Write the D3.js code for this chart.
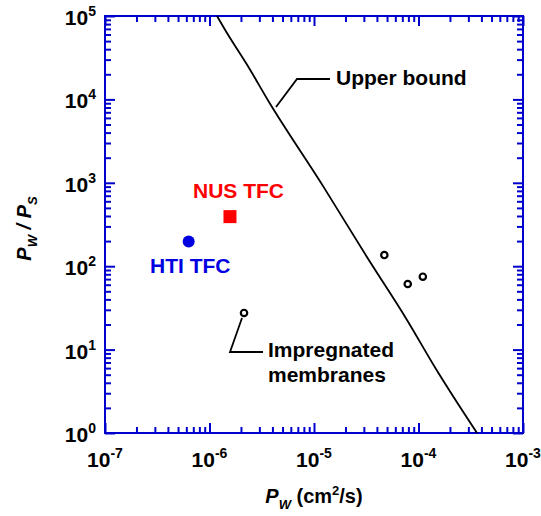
<!DOCTYPE html>
<html>
<head>
<meta charset="utf-8">
<script src="https://cdn.jsdelivr.net/npm/d3@7"></script>
<style>
  body { margin: 0; background: #fff; }
  svg { font-family: "Liberation Sans", Arial, sans-serif; font-weight: bold; }
</style>
</head>
<body>
<svg width="541" height="516"></svg>
<script>
// ---- data ----
const xDecades = [-7, -6, -5, -4, -3];
const yDecades = [0, 1, 2, 3, 4, 5];

// upper bound curve
const boundX = [1.18e-6, 1.47e-6, 2.29e-6, 3.71e-6, 1.23e-5, 3.21e-5, 7.76e-5, 1.49e-4, 3.63e-4];
const boundY = [1e5, 6.25e4, 2.6e4, 9.3e3, 900, 129, 22.7, 5.69, 1];

// impregnated membranes (open circles)
const impX = [2.14e-6, 4.71e-5, 7.89e-5, 1.10e-4];
const impY = [27.5, 136, 61.2, 74.8];

// thin film composites
const htiX = [6.32e-7];
const htiY = [198];
const nusX = [1.57e-6];
const nusY = [393];

// ---- layout ----
const margin = { top: 16, right: 18, bottom: 83, left: 105 };
const width = 541, height = 516;
const innerW = width - margin.left - margin.right;
const innerH = height - margin.top - margin.bottom;
const axisColor = '#0000cc';

const svg = d3.select('svg');
const g = svg.append('g').attr('transform', `translate(${margin.left},${margin.top})`);

const x = d3.scaleLog().domain([1e-7, 1e-3]).range([0, innerW]);
const y = d3.scaleLog().domain([1, 1e5]).range([innerH, 0]);

// minor + major tick values
const minorX = [], minorY = [];
for (let e = -7; e < -3; e++) for (let m = 2; m <= 9; m++) minorX.push(m * Math.pow(10, e));
for (let e = 0; e < 5; e++) for (let m = 2; m <= 9; m++) minorY.push(m * Math.pow(10, e));
const majorX = xDecades.map(d => Math.pow(10, d));
const majorY = yDecades.map(d => Math.pow(10, d));

function styleAxis(sel) {
  sel.select('.domain').remove();
  sel.selectAll('line').attr('stroke', axisColor).attr('stroke-width', 2);
}

// ticks on all four sides, pointing inward
const axes = [
  [d3.axisBottom(x), `translate(0,${innerH})`, minorX, majorX],
  [d3.axisTop(x), 'translate(0,0)', minorX, majorX],
  [d3.axisLeft(y), 'translate(0,0)', minorY, majorY],
  [d3.axisRight(y), `translate(${innerW},0)`, minorY, majorY]
];
axes.forEach(([gen, tr, minor, major]) => {
  g.append('g').attr('transform', tr)
    .call(gen.tickValues(minor).tickSize(-6).tickFormat(''))
    .call(styleAxis);
  g.append('g').attr('transform', tr)
    .call(gen.tickValues(major).tickSize(-10).tickFormat(''))
    .call(styleAxis);
});

// frame
g.append('rect')
  .attr('width', innerW).attr('height', innerH)
  .attr('fill', 'none').attr('stroke', axisColor).attr('stroke-width', 2);

// tick labels with superscripts
xDecades.forEach(e => {
  const t = g.append('text')
    .attr('x', x(Math.pow(10, e))).attr('y', innerH + 34)
    .attr('text-anchor', 'middle').attr('font-size', 21);
  t.append('tspan').text('10');
  t.append('tspan').attr('font-size', 14).attr('dy', -9).text(e);
});
yDecades.forEach(e => {
  const t = g.append('text')
    .attr('x', -9).attr('y', y(Math.pow(10, e)) + 9)
    .attr('text-anchor', 'end').attr('font-size', 21);
  t.append('tspan').text('10');
  t.append('tspan').attr('font-size', 14).attr('dy', -9).text(e);
});

// axis titles
const xt = svg.append('text')
  .attr('x', margin.left + innerW / 2).attr('y', 503)
  .attr('text-anchor', 'middle').attr('font-size', 20);
xt.append('tspan').attr('font-style', 'italic').text('P');
xt.append('tspan').attr('font-style', 'italic').attr('font-size', 13).attr('dy', 6).text('W');
xt.append('tspan').attr('dy', -6).text(' (cm');
xt.append('tspan').attr('font-size', 13).attr('dy', -8).text('2');
xt.append('tspan').attr('dy', 8).text('/s)');

const yt = svg.append('text')
  .attr('transform', `translate(31,${margin.top + innerH / 2 + 4}) rotate(-90)`)
  .attr('text-anchor', 'middle').attr('font-size', 20).attr('font-style', 'italic');
yt.append('tspan').text('P');
yt.append('tspan').attr('font-size', 13).attr('dy', 6).text('W');
yt.append('tspan').attr('dy', -6).text(' / P');
yt.append('tspan').attr('font-size', 13).attr('dy', 6).text('S');

// upper bound line
const line = d3.line().x(d => x(d[0])).y(d => y(d[1])).curve(d3.curveMonotoneX);
g.append('path')
  .datum(d3.zip(boundX, boundY))
  .attr('d', line)
  .attr('fill', 'none').attr('stroke', '#000').attr('stroke-width', 1.8);

// open circles
g.selectAll('.imp')
  .data(d3.zip(impX, impY))
  .join('circle')
  .attr('class', 'imp')
  .attr('cx', d => x(d[0])).attr('cy', d => y(d[1]))
  .attr('r', 3.2)
  .attr('fill', '#fff').attr('stroke', '#000').attr('stroke-width', 2.2);

// HTI TFC
g.selectAll('.hti')
  .data(d3.zip(htiX, htiY))
  .join('circle')
  .attr('class', 'hti')
  .attr('cx', d => x(d[0])).attr('cy', d => y(d[1]))
  .attr('r', 6).attr('fill', '#0000e0');

// NUS TFC
g.selectAll('.nus')
  .data(d3.zip(nusX, nusY))
  .join('rect')
  .attr('class', 'nus')
  .attr('x', d => x(d[0]) - 6.5).attr('y', d => y(d[1]) - 6.5)
  .attr('width', 13).attr('height', 13).attr('fill', '#ff0000');

// annotations
svg.append('text').attr('x', 193).attr('y', 198)
  .attr('font-size', 21).attr('fill', '#ff0000').text('NUS TFC');
svg.append('text').attr('x', 150).attr('y', 273)
  .attr('font-size', 21).attr('fill', '#0000e0').text('HTI TFC');

svg.append('polyline')
  .attr('points', '276,107 297,79 330,79')
  .attr('fill', 'none').attr('stroke', '#000').attr('stroke-width', 1.8);
svg.append('text').attr('x', 336).attr('y', 85)
  .attr('font-size', 21).attr('fill', '#000').text('Upper bound');

svg.append('polyline')
  .attr('points', '242,318 230,352 263,352')
  .attr('fill', 'none').attr('stroke', '#000').attr('stroke-width', 1.8);
svg.append('text').attr('x', 268).attr('y', 357)
  .attr('font-size', 21).attr('fill', '#000').text('Impregnated');
svg.append('text').attr('x', 268).attr('y', 382)
  .attr('font-size', 21).attr('fill', '#000').text('membranes');
</script>
</body>
</html>
